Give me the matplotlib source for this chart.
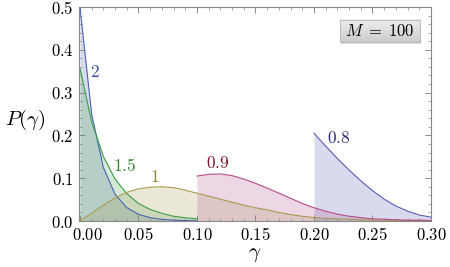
import matplotlib
matplotlib.use("Agg")
import matplotlib.pyplot as plt
import matplotlib.transforms as mtransforms
from matplotlib.patches import Rectangle
import numpy as np

plt.rcParams['mathtext.fontset'] = 'cm'
plt.rcParams['font.family'] = ['DejaVu Serif']

# ---- data ----
gamma_a = [0.00, 0.01, 0.02, 0.03, 0.04, 0.05, 0.06, 0.07, 0.08, 0.09, 0.10]
p_2 = [0.5, 0.25, 0.125, 0.0625, 0.0313, 0.0156, 0.0078, 0.0039, 0.002, 0.001, 0.0005]
p_15 = [0.357, 0.232, 0.151, 0.098, 0.064, 0.041, 0.027, 0.018, 0.011, 0.0075, 0.005]

gamma_b = [0.00, 0.01, 0.02, 0.03, 0.04, 0.05, 0.06, 0.07, 0.08, 0.09, 0.10,
           0.11, 0.12, 0.13, 0.14, 0.15, 0.16, 0.17, 0.18, 0.19, 0.20,
           0.21, 0.22, 0.23, 0.24, 0.25, 0.26, 0.27, 0.28, 0.29, 0.30]
p_1 = [0.000, 0.018, 0.037, 0.054, 0.067, 0.075, 0.079, 0.080, 0.078, 0.072, 0.065,
       0.058, 0.051, 0.044, 0.037, 0.031, 0.026, 0.020, 0.015, 0.011, 0.008,
       0.006, 0.005, 0.004, 0.003, 0.002, 0.002, 0.001, 0.001, 0.001, 0.001]

gamma_c = [0.10, 0.11, 0.12, 0.13, 0.14, 0.15, 0.16, 0.17, 0.18, 0.19, 0.20,
           0.21, 0.22, 0.23, 0.24, 0.25, 0.26, 0.27, 0.28, 0.29, 0.30]
p_09 = [0.105, 0.109, 0.110, 0.106, 0.098, 0.088, 0.077, 0.065, 0.053, 0.041, 0.031,
        0.023, 0.016, 0.011, 0.008, 0.005, 0.004, 0.003, 0.002, 0.002, 0.001]

gamma_d = [0.20, 0.21, 0.22, 0.23, 0.24, 0.25, 0.26, 0.27, 0.28, 0.29, 0.30]
p_08 = [0.205, 0.175, 0.146, 0.119, 0.094, 0.071, 0.051, 0.035, 0.023, 0.014, 0.009]

series_names = ['2', '1.5', '1', '0.9', '0.8']
line_colors = ['#4a64b0', '#3f9e48', '#a89a4e', '#b44a86', '#5a5ab4']
label_colors = ['#3a4f9a', '#2a8a2a', '#8f8034', '#7a1426', '#2e2e78']
label_pos = [(0.0128, 0.348), (0.0385, 0.127), (0.0637, 0.102), (0.118, 0.134), (0.221, 0.192)]

xticks = [0.00, 0.05, 0.10, 0.15, 0.20, 0.25, 0.30]
xtick_labels = ['0.00', '0.05', '0.10', '0.15', '0.20', '0.25', '0.30']
yticks = [0.0, 0.1, 0.2, 0.3, 0.4, 0.5]
ytick_labels = ['0.0', '0.1', '0.2', '0.3', '0.4', '0.5']

# ---- figure ----
fig = plt.figure(figsize=(4.5, 2.67), dpi=100)
ax = fig.add_axes([79/450, 1-221/267, 352/450, 214/267])

xs = [gamma_a, gamma_a, gamma_b, gamma_c, gamma_d]
ys = [p_2, p_15, p_1, p_09, p_08]
for x, y, c in zip(xs, ys, line_colors):
    ax.fill_between(x, 0, y, color=c, alpha=0.22, linewidth=0)
    ax.plot(x, y, color=c, lw=0.8)

for name, (lx, ly), c in zip(series_names, label_pos, label_colors):
    ax.text(lx, ly, f'${name}$', color=c, fontsize=12.5, ha='center', va='center')

ax.set_xlim(-0.0008, 0.3)
ax.set_ylim(0, 0.5)
ax.set_xticks(xticks)
ax.set_xticklabels([f'${t}$' for t in xtick_labels], fontsize=12)
ax.set_yticks(yticks)
ax.set_yticklabels([f'${t}$' for t in ytick_labels], fontsize=12)
ax.set_xticks(np.arange(0, 0.3001, 0.01), minor=True)
ax.set_yticks(np.arange(0, 0.5001, 0.02), minor=True)
ax.tick_params(which='both', direction='in', top=True, right=True, color='#888888')
ax.tick_params(which='major', length=4, width=0.7, pad=4)
ax.tick_params(which='minor', length=2.2, width=0.5)
for s in ax.spines.values():
    s.set_color('#888888')
    s.set_linewidth(0.8)

# shift the first x label right as in reference
lab0 = ax.get_xticklabels()[0]
lab0.set_transform(lab0.get_transform() + mtransforms.ScaledTranslation(8/100, 0, fig.dpi_scale_trans))

ax.set_xlabel(r'$\gamma$', fontsize=15, labelpad=1)
ax.set_ylabel(r'$P(\gamma)$', fontsize=15, rotation=0, va='center', ha='center')
ax.yaxis.set_label_coords(-0.153, 0.47)

# legend-like box with vertical gradient
bx0, bx1, by0, by1 = 0.741, 0.969, 0.836, 0.939
shadow = Rectangle((bx0 + 0.004, by0 - 0.008), bx1 - bx0, by1 - by0, transform=ax.transAxes,
                   facecolor='#c8c8c8', edgecolor='none', alpha=0.6, zorder=4)
ax.add_patch(shadow)
grad = np.linspace(0.93, 0.80, 64).reshape(-1, 1)
ax.imshow(grad, cmap='gray', vmin=0, vmax=1, aspect='auto', extent=(bx0, bx1, by0, by1),
          transform=ax.transAxes, zorder=5, interpolation='bilinear', origin='upper')
ax.add_patch(Rectangle((bx0, by0), bx1 - bx0, by1 - by0, transform=ax.transAxes,
                       facecolor='none', edgecolor='#b4b4b4', linewidth=0.6, zorder=6))
ax.text((bx0 + bx1) / 2, (by0 + by1) / 2, r'$M\;=\;100$', transform=ax.transAxes, fontsize=12,
        ha='center', va='center', zorder=7)
ax.set_xlim(-0.0008, 0.3)
ax.set_ylim(0, 0.5)

fig.savefig('out.png', dpi=100)
